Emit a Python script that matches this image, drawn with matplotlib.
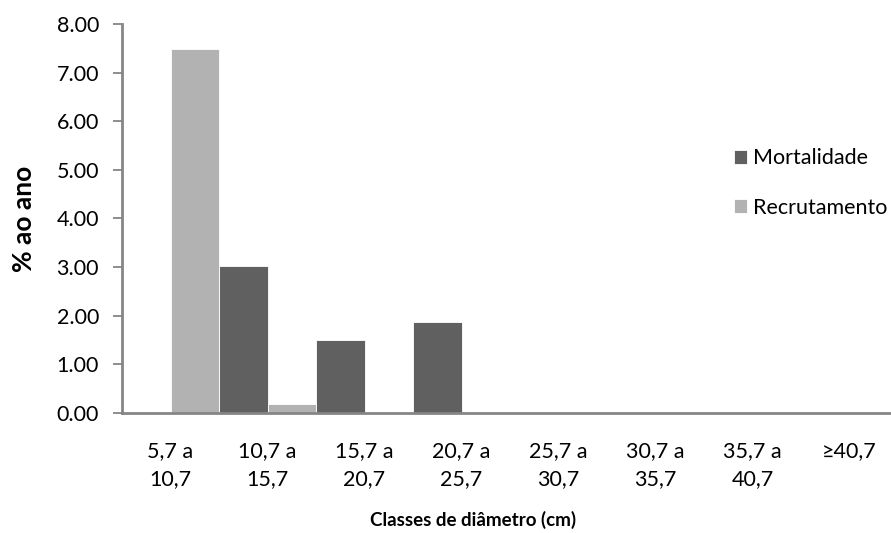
import matplotlib.pyplot as plt
import numpy as np

plt.rcParams['font.family'] = ['Lato', 'DejaVu Sans']

# diameter classes and annual rates (%)
classes = ['5,7 a\n10,7', '10,7 a\n15,7', '15,7 a\n20,7', '20,7 a\n25,7',
           '25,7 a\n30,7', '30,7 a\n35,7', '35,7 a\n40,7', '≥40,7']
mortalidade = [0.0, 3.03, 1.51, 1.87, 0.0, 0.0, 0.0, 0.0]
recrutamento = [7.48, 0.18, 0.0, 0.0, 0.0, 0.0, 0.0, 0.0]

dark = '#606060'
light = '#b2b2b2'
axis_gray = '#868686'

W, H = 891, 533
fig = plt.figure(figsize=(W / 100, H / 100), dpi=100)
# plot area runs past the right edge of the figure
ax = fig.add_axes([122 / W, 1 - 413 / H, 776 / W, 389 / H])

x = np.arange(len(classes))
ax.bar(x - 0.25, mortalidade, width=0.5, color=dark, edgecolor='white',
       linewidth=0.6, label='Mortalidade')
ax.bar(x + 0.25, recrutamento, width=0.5, color=light, edgecolor='white',
       linewidth=0.6, label='Recrutamento')

ax.set_xlim(-0.5, len(classes) - 0.5)
ax.set_ylim(0, 8)
ax.set_yticks(np.arange(0, 9, 1))
ax.set_yticklabels([f'{v:.2f}' for v in np.arange(0, 9, 1)])
ax.set_xticks(x)
ax.set_xticklabels(classes, linespacing=1.5)

ax.tick_params(axis='y', length=6.5, width=1.3, color=axis_gray,
               labelsize=15.5, pad=10)
ax.tick_params(axis='x', length=0, labelsize=15.5, pad=20)

for side in ['top', 'right']:
    ax.spines[side].set_visible(False)
for side in ['left', 'bottom']:
    ax.spines[side].set_color(axis_gray)
    ax.spines[side].set_linewidth(2)

ax.set_ylabel('% ao ano', fontsize=19, fontweight='bold', labelpad=15)
fig.text(473 / W, 1 - 520 / H, 'Classes de diâmetro (cm)', fontsize=13.5,
         fontweight='bold', ha='center', va='center')

leg = fig.legend(loc='center left', bbox_to_anchor=(715 / W, 1 - 183 / H),
                 frameon=False, fontsize=15.5, handlelength=0.6,
                 handleheight=0.6, handletextpad=0.25, labelspacing=1.35)

fig.savefig('out.png', dpi=100)
